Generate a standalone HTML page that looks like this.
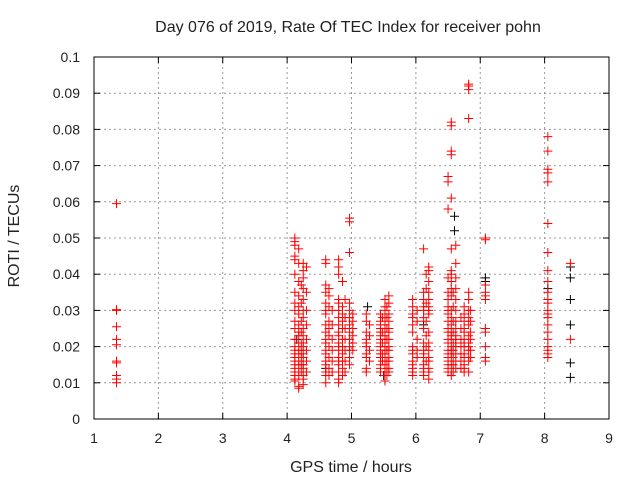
<!DOCTYPE html>
<html><head><meta charset="utf-8"><style>
body{margin:0;background:#fff}
svg text{font-family:"Liberation Sans",sans-serif;font-size:14px;fill:#222}
svg text.big{font-size:16px}
</style></head><body>
<svg id="chart" width="640" height="480" xmlns="http://www.w3.org/2000/svg">
<text class="big" x="348" y="32" text-anchor="middle">Day 076 of 2019, Rate Of TEC Index for receiver pohn</text>
<text class="big" x="351" y="472" text-anchor="middle">GPS time / hours</text>
<text class="big" x="19" y="236" text-anchor="middle" transform="rotate(-90 19 236)">ROTI / TECUs</text>
<g id="grid"></g>
<g id="axes"></g>
<g id="marks"></g>
<rect x="94" y="57" width="515" height="362" fill="none" stroke="#000" stroke-width="1"/>
</svg>
<script>
const xTicks=[1,2,3,4,5,6,7,8,9];
const yTicks=[0,0.01,0.02,0.03,0.04,0.05,0.06,0.07,0.08,0.09,0.1];
const yTickLabels=["0","0.01","0.02","0.03","0.04","0.05","0.06","0.07","0.08","0.09","0.1"];
const redTimes=[1.35,4.12,4.18,4.25,4.3,4.6,4.65,4.8,4.86,4.97,5.02,5.23,5.28,5.45,5.52,5.58,5.95,6.02,6.12,6.2,6.5,6.55,6.62,6.75,6.82,7.08,8.05,8.4,4.22,4.7,4.9,5.55,6.58,6.7,6.85,6.16,5.48];
const redValues=[
[0.0595,0.030,0.0302,0.0255,0.022,0.0205,0.016,0.0155,0.012,0.011,0.010],
[0.050,0.049,0.048,0.045,0.044,0.040,0.035,0.032,0.030,0.027,0.025,0.022,0.020,0.019,0.018,0.017,0.016,0.015,0.014,0.013,0.012,0.011,0.0105],
[0.047,0.043,0.038,0.034,0.031,0.029,0.026,0.024,0.023,0.021,0.019,0.018,0.016,0.015,0.013,0.012,0.0085,0.009],
[0.043,0.041,0.039,0.036,0.033,0.030,0.028,0.025,0.023,0.021,0.020,0.018,0.017,0.015,0.014,0.012,0.011,0.0095],
[0.042,0.035,0.030,0.026,0.022,0.019,0.016,0.013],
[0.044,0.043,0.037,0.035,0.032,0.030,0.029,0.026,0.024,0.022,0.021,0.019,0.018,0.016,0.015,0.013,0.012,0.010],
[0.036,0.034,0.031,0.027,0.025,0.023,0.020,0.017,0.014,0.012],
[0.044,0.042,0.040,0.033,0.032,0.030,0.028,0.026,0.024,0.023,0.021,0.020,0.019,0.017,0.016,0.015,0.013,0.011,0.010],
[0.038,0.031,0.029,0.027,0.025,0.022,0.020,0.018,0.016,0.014,0.012],
[0.0555,0.0545,0.046,0.032,0.030,0.028,0.026,0.024,0.022,0.020,0.019,0.017,0.015],
[0.029,0.027,0.025,0.023,0.021,0.019],
[0.029,0.027,0.024,0.022,0.021,0.020,0.018,0.017,0.014,0.013],
[0.026,0.023,0.019,0.016],
[0.029,0.027,0.026,0.025,0.024,0.023,0.022,0.021,0.020,0.019,0.018,0.017,0.015,0.014,0.013],
[0.033,0.031,0.030,0.028,0.026,0.025,0.023,0.022,0.021,0.020,0.019,0.018,0.017,0.016,0.015,0.013,0.012,0.0105],
[0.034,0.032,0.029,0.027,0.025,0.024,0.022,0.020,0.019,0.017,0.016,0.014,0.013],
[0.033,0.031,0.029,0.028,0.026,0.024,0.020,0.019,0.018,0.016,0.015,0.014,0.013,0.012],
[0.030,0.027,0.022,0.019,0.017],
[0.047,0.035,0.033,0.031,0.030,0.028,0.025,0.021,0.019,0.018,0.017,0.015,0.014,0.013,0.012],
[0.042,0.041,0.038,0.035,0.033,0.031,0.030,0.029,0.024,0.021,0.019,0.017,0.016,0.014,0.013,0.011],
[0.067,0.0655,0.058,0.039,0.035,0.033,0.031,0.030,0.029,0.027,0.025,0.024,0.022,0.021,0.019,0.018,0.017,0.016,0.015,0.014,0.013],
[0.082,0.081,0.074,0.073,0.061,0.047,0.041,0.040,0.038,0.036,0.034,0.030,0.028,0.026,0.024,0.023,0.022,0.020,0.019,0.018,0.017,0.015,0.013,0.012],
[0.048,0.043,0.039,0.036,0.033,0.030,0.027,0.025,0.023,0.022,0.021,0.020,0.018,0.016,0.014],
[0.031,0.029,0.027,0.025,0.024,0.022,0.021,0.020,0.018,0.017,0.015,0.014,0.013],
[0.0925,0.092,0.091,0.083,0.035,0.033,0.030,0.028,0.026,0.023,0.021,0.020,0.019,0.017,0.016,0.013],
[0.050,0.0495,0.037,0.035,0.034,0.033,0.025,0.024,0.020,0.017,0.016],
[0.078,0.074,0.069,0.068,0.0655,0.054,0.046,0.041,0.038,0.035,0.033,0.032,0.030,0.029,0.028,0.026,0.024,0.022,0.020,0.019,0.018,0.017],
[0.043,0.022],
[0.037,0.032,0.027,0.024,0.021,0.019,0.017,0.015,0.013],
[0.030,0.026,0.022,0.019,0.016,0.013],
[0.033,0.028,0.025,0.022,0.019,0.016,0.013],
[0.031,0.028,0.025,0.022,0.019,0.016,0.014,0.012],
[0.035,0.031,0.027,0.024,0.021,0.019,0.017,0.015,0.013],
[0.028,0.025,0.022,0.020,0.018,0.016,0.014],
[0.030,0.027,0.024,0.022,0.019,0.017],
[0.040,0.036,0.032,0.027,0.023,0.020,0.016],
[0.028,0.024,0.021,0.018,0.016]
];
const blackTimes=[4.15,4.6,5.25,6.6,6.6,7.08,7.08,8.05,8.4,8.4,8.4,8.4,8.4,8.4,6.12,5.5];
const blackValues=[0.022,0.014,0.031,0.056,0.052,0.038,0.039,0.036,0.042,0.039,0.033,0.026,0.0155,0.0115,0.026,0.012];

const X0=94,X1=609,Y0=419,Y1=57;
function xs(t){return X0+(t-1)/8*(X1-X0);}
function ys(v){return Y0-v/0.1*(Y0-Y1);}
const NS="http://www.w3.org/2000/svg";
const grid=document.getElementById('grid'),axes=document.getElementById('axes'),marks=document.getElementById('marks');
function mk(tag,attrs,parent){const e=document.createElementNS(NS,tag);for(const k in attrs)e.setAttribute(k,attrs[k]);parent.appendChild(e);return e;}
xTicks.forEach((t,i)=>{
  const x=xs(t);
  if(i>0&&i<xTicks.length-1){const g=mk('line',{x1:x,x2:x,y1:Y1,y2:Y0,stroke:'#999','stroke-dasharray':'2,3'},grid);
  
  }
  mk('line',{x1:x,x2:x,y1:Y0,y2:Y0-6,stroke:'#000'},axes);
  mk('line',{x1:x,x2:x,y1:Y1,y2:Y1+6,stroke:'#000'},axes);
  const tx=mk('text',{x:x,y:Y0+24,'text-anchor':'middle'},axes);tx.textContent=t;
  
  
});
yTicks.forEach((v,i)=>{
  const y=ys(v);
  if(i>0&&i<yTicks.length-1){const g=mk('line',{x1:X0,x2:X1,y1:y,y2:y,stroke:'#999','stroke-dasharray':'2,3'},grid);
  
  }
  mk('line',{x1:X0,x2:X0+6,y1:y,y2:y,stroke:'#000'},axes);
  mk('line',{x1:X1,x2:X1-6,y1:y,y2:y,stroke:'#000'},axes);
  const tx=mk('text',{x:X0-14,y:y+5,'text-anchor':'end'},axes);tx.textContent=yTickLabels[i];
  
  
});
function plus(t,v,color,name){
  const x=xs(t),y=ys(v);
  const p=mk('path',{d:`M${x-4.5},${y}H${x+4.5}M${x},${y-4.5}V${y+4.5}`,stroke:color,'stroke-width':1,fill:'none'},marks);
  
  
}
blackTimes.forEach((t,i)=>plus(t,blackValues[i],'#000','point-black'));
redTimes.forEach((t,i)=>redValues[i].forEach(v=>plus(t,v,'#f00','point-red')));
</script>
</body></html>
